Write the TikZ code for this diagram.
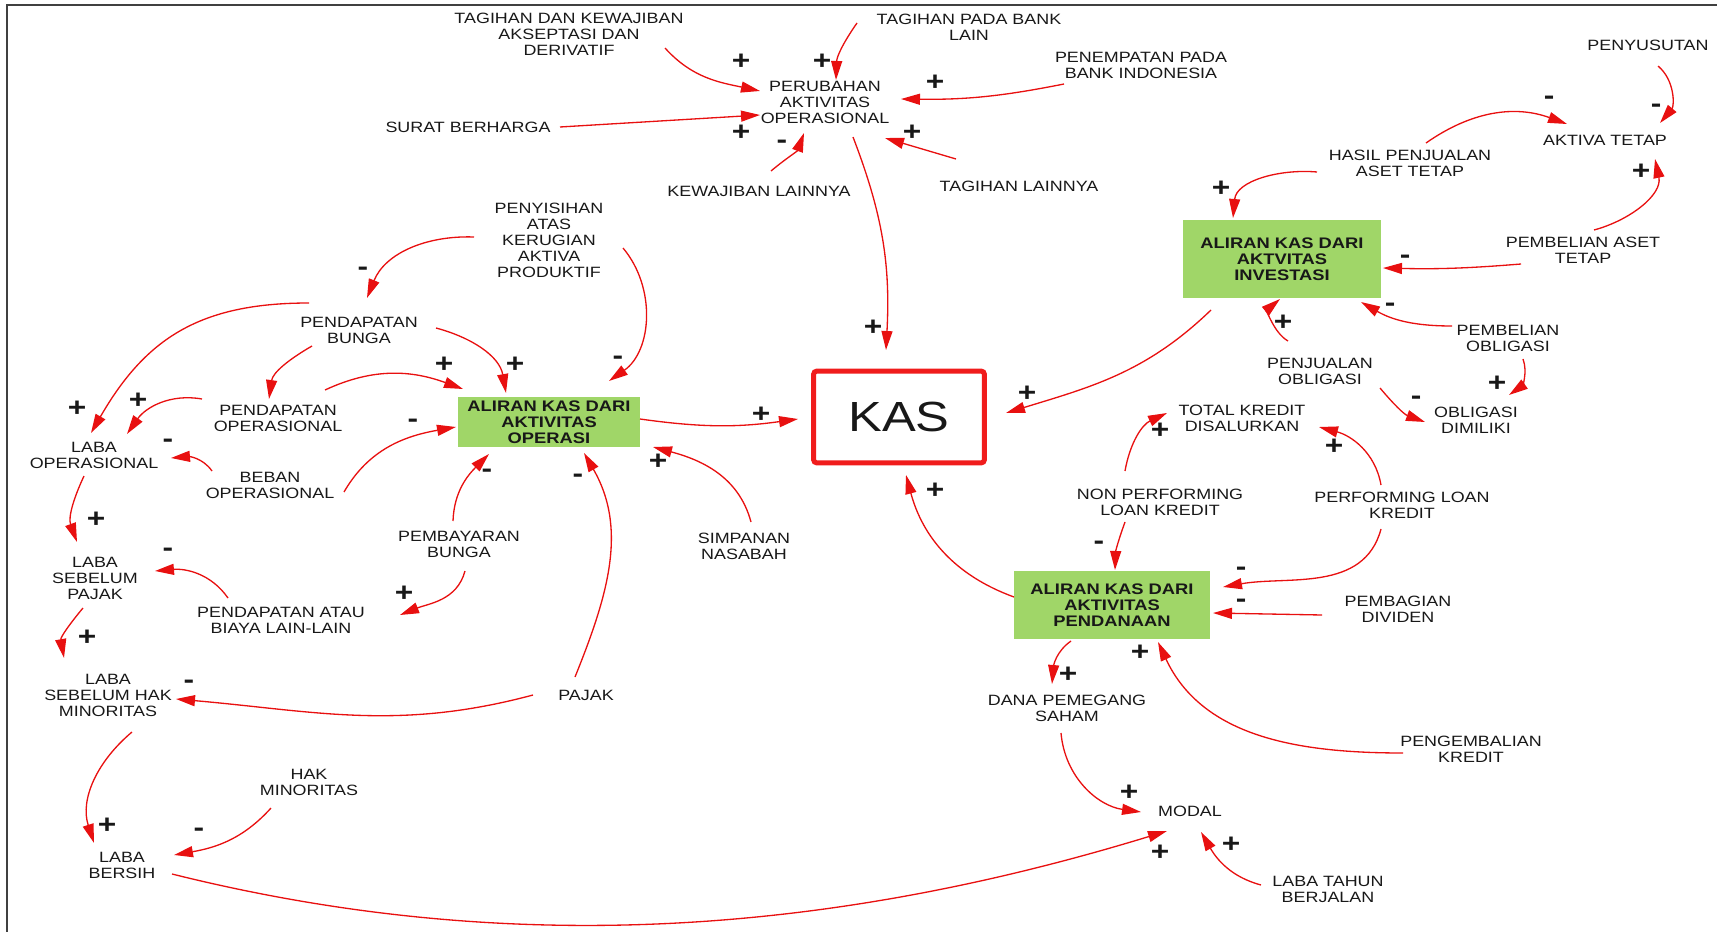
\documentclass[tikz,border=0pt]{standalone}
\usepackage{fontspec}
\setmainfont{Liberation Sans}[FakeStretch=1.2]
\usetikzlibrary{arrows.meta,calc}

\definecolor{linkred}{RGB}{232,16,16}
\definecolor{boxgreen}{RGB}{160,214,104}
\definecolor{kasred}{RGB}{240,28,28}
\definecolor{ink}{RGB}{24,24,24}

\begin{document}
\begin{tikzpicture}[
  x=0.02cm, y=0.02cm,
  every node/.style={text=ink},
  var/.style={align=center, inner sep=2pt, font=\fontsize{8.5}{9.1}\selectfont},
  flowbox/.style={fill=boxgreen, align=center, inner sep=2pt, font=\fontsize{8.7}{9.1}\selectfont\bfseries},
  kasbox/.style={draw=kasred, line width=0.1cm, rounded corners=2pt, minimum width=3.42cm, minimum height=1.84cm, font=\fontsize{24}{28}\selectfont},
  link/.style={draw=linkred, line width=0.75pt, -{Triangle[length=0.38cm, width=0.22cm]}},
  sign/.style={font=\fontsize{15}{15}\selectfont\bfseries, inner sep=0pt},
  frame/.style={draw=black!75, line width=0.035cm}
]
\useasboundingbox (0,0) rectangle (1717,-932);
\draw[frame] (7,-932) -- (7,-5) -- (1717,-5);

% stocks and flows
\node[kasbox] (kas) at (899,-417) {KAS};
\node[flowbox, minimum width=3.64cm, minimum height=1.0cm] (operasi) at (549,-422) {ALIRAN KAS DARI\\AKTIVITAS\\OPERASI};
\node[flowbox, minimum width=3.96cm, minimum height=1.58cm] (investasi) at (1282,-259) {ALIRAN KAS DARI\\AKTVITAS\\INVESTASI};
\node[flowbox, minimum width=3.94cm, minimum height=1.38cm] (pendanaan) at (1112,-605) {ALIRAN KAS DARI\\AKTIVITAS\\PENDANAAN};

% operasional changes
\node[var] (tagkwj) at (569,-34) {TAGIHAN DAN KEWAJIBAN\\AKSEPTASI DAN\\DERIVATIF};
\node[var] (tagbank) at (969,-27) {TAGIHAN PADA BANK\\LAIN};
\node[var] (penempatan) at (1141,-65) {PENEMPATAN PADA\\BANK INDONESIA};
\node[var] (perubahan) at (825,-102) {PERUBAHAN\\AKTIVITAS\\OPERASIONAL};
\node[var] (surat) at (468,-127) {SURAT BERHARGA};
\node[var] (kwjlain) at (759,-191) {KEWAJIBAN LAINNYA};
\node[var] (taglain) at (1019,-186) {TAGIHAN LAINNYA};

% investasi side
\node[var] (penyusutan) at (1648,-45) {PENYUSUTAN};
\node[var] (aktiva) at (1605,-140) {AKTIVA TETAP};
\node[var] (hasiljual) at (1410,-163) {HASIL PENJUALAN\\ASET TETAP};
\node[var] (beliaset) at (1583,-250) {PEMBELIAN ASET\\TETAP};
\node[var] (beliobl) at (1508,-338) {PEMBELIAN\\OBLIGASI};
\node[var] (jualobl) at (1320,-371) {PENJUALAN\\OBLIGASI};
\node[var] (oblmilik) at (1476,-420) {OBLIGASI\\DIMILIKI};

% pendanaan side
\node[var] (totkredit) at (1242,-418) {TOTAL KREDIT\\DISALURKAN};
\node[var] (nonperf) at (1160,-502) {NON PERFORMING\\LOAN KREDIT};
\node[var] (performing) at (1402,-505) {PERFORMING LOAN\\KREDIT};
\node[var] (dividen) at (1398,-609) {PEMBAGIAN\\DIVIDEN};
\node[var] (danaps) at (1067,-708) {DANA PEMEGANG\\SAHAM};
\node[var] (kembali) at (1471,-749) {PENGEMBALIAN\\KREDIT};
\node[var] (modal) at (1190,-811) {MODAL};
\node[var] (labathn) at (1328,-889) {LABA TAHUN\\BERJALAN};

% laba rugi side
\node[var] (penyisihan) at (549,-240) {PENYISIHAN\\ATAS\\KERUGIAN\\AKTIVA\\PRODUKTIF};
\node[var] (pendbunga) at (359,-330) {PENDAPATAN\\BUNGA};
\node[var] (pendops) at (278,-418) {PENDAPATAN\\OPERASIONAL};
\node[var] (beban) at (270,-485) {BEBAN\\OPERASIONAL};
\node[var] (labaops) at (94,-455) {LABA\\OPERASIONAL};
\node[var] (bayarbunga) at (459,-544) {PEMBAYARAN\\BUNGA};
\node[var] (simpanan) at (744,-546) {SIMPANAN\\NASABAH};
\node[var] (labasp) at (95,-578) {LABA\\SEBELUM\\PAJAK};
\node[var] (pendlain) at (281,-620) {PENDAPATAN ATAU\\BIAYA LAIN-LAIN};
\node[var] (pajak) at (586,-695) {PAJAK};
\node[var] (labashm) at (108,-695) {LABA\\SEBELUM HAK\\MINORITAS};
\node[var] (hakmin) at (309,-782) {HAK\\MINORITAS};
\node[var] (lababer) at (122,-865) {LABA\\BERSIH};

% links into perubahan aktivitas operasional
\draw[link] ($(tagkwj)+(96,-14)$) to[out=-48, in=168] ($(perubahan)+(-65,11)$);
\draw[link] ($(tagbank)+(-112,4)$) to[out=235, in=88] ($(perubahan)+(11,22)$);
\draw[link] ($(penempatan)+(-77,-19)$) to[bend left=6] ($(perubahan)+(76,3)$);
\draw[link] ($(surat)+(92,0)$) -- ($(perubahan)+(-65,-13)$);
\draw[link] ($(kwjlain)+(12,20)$) to[out=40, in=-110] ($(perubahan)+(-21,-31)$);
\draw[link] ($(taglain)+(-63,27)$) -- ($(perubahan)+(60,-36)$);
\draw[link] ($(perubahan)+(28,-35)$) to[out=-69, in=87] ($(kas)+(-13,67)$);

% investasi links
\draw[link] ($(penyusutan)+(10,-21)$) to[out=-40, in=50] ($(aktiva)+(55,17)$);
\draw[link] ($(hasiljual)+(16,20)$) to[out=35, in=160] ($(aktiva)+(-38,16)$);
\draw[link] ($(beliaset)+(11,20)$) to[out=15, in=-78] ($(aktiva)+(50,-19)$);
\draw[link] ($(hasiljual)+(-93,-9)$) to[out=175, in=85] ($(investasi)+(-49,41)$);
\draw[link] ($(beliaset)+(-62,-14)$) to[bend left=3] ($(investasi)+(101,-9)$);
\draw[link] ($(beliobl)+(-56,12)$) to[out=180, in=-30] ($(investasi)+(79,-43)$);
\draw[link] ($(jualobl)+(-32,30)$) to[out=150, in=-140] ($(investasi)+(-2,-40)$);
\draw[link] ($(investasi)+(-71,-51)$) to[out=224, in=17] ($(kas)+(107,4)$);
\draw[link] ($(beliobl)+(15,-21)$) to[out=-70, in=35] ($(oblmilik)+(33,25)$);
\draw[link] ($(jualobl)+(60,-17)$) to[out=-50, in=160] ($(oblmilik)+(-51,-2)$);

% pendanaan links
\draw[link] ($(nonperf)+(-35,31)$) to[out=80, in=-155] ($(totkredit)+(-75,5)$);
\draw[link] ($(performing)+(-21,20)$) to[out=100, in=-15] ($(totkredit)+(77,-9)$);
\draw[link] ($(nonperf)+(-35,-20)$) to[out=-110, in=88] ($(pendanaan)+(3,35)$);
\draw[link] ($(performing)+(-21,-24)$) to[out=-105, in=10] ($(pendanaan)+(111,18)$);
\draw[link] ($(dividen)+(-76,-6)$) -- ($(pendanaan)+(101,-8)$);
\draw[link] ($(pendanaan)+(-98,8)$) to[out=160, in=-75] ($(kas)+(7,-58)$);
\draw[link] ($(kembali)+(-68,-4)$) to[out=180, in=-65] ($(pendanaan)+(46,-37)$);
\draw[link] ($(pendanaan)+(-41,-36)$) to[out=215, in=85] ($(danaps)+(-15,24)$);
\draw[link] ($(danaps)+(-6,-25)$) to[out=-85, in=172] ($(modal)+(-49,-1)$);
\draw[link] ($(lababer)+(50,-9)$) to[out=-14, in=197, looseness=0.9] ($(modal)+(-23,-20)$);
\draw[link] ($(labathn)+(-67,4)$) to[out=165, in=-60] ($(modal)+(11,-21)$);

% operasi and laba rugi links
\draw[link] ($(penyisihan)+(-75,3)$) to[out=178, in=68] ($(pendbunga)+(8,32)$);
\draw[link] ($(penyisihan)+(74,-8)$) to[out=-50, in=35] ($(operasi)+(60,41)$);
\draw[link] ($(pendbunga)+(77,2)$) to[out=-15, in=100] ($(operasi)+(-43,29)$);
\draw[link] ($(pendbunga)+(-50,27)$) to[out=180, in=60, looseness=1.1] ($(labaops)+(-3,22)$);
\draw[link] ($(pendbunga)+(-47,-16)$) to[out=210, in=82] ($(pendops)+(-9,19)$);
\draw[link] ($(pendops)+(47,28)$) to[out=25, in=160] ($(operasi)+(-86,33)$);
\draw[link] ($(pendops)+(-76,19)$) to[out=170, in=55] ($(labaops)+(33,21)$);
\draw[link] ($(beban)+(-58,14)$) to[out=125, in=5] ($(labaops)+(77,-3)$);
\draw[link] ($(beban)+(74,-7)$) to[out=60, in=190] ($(operasi)+(-93,-5)$);
\draw[link] ($(bayarbunga)+(-6,23)$) to[out=88, in=-135] ($(operasi)+(-60,-32)$);
\draw[link] ($(bayarbunga)+(6,-27)$) to[out=-105, in=22] ($(pendlain)+(119,5)$);
\draw[link] ($(pajak)+(-11,18)$) to[out=68, in=-60] ($(operasi)+(35,-31)$);
\draw[link] ($(simpanan)+(7,24)$) to[out=105, in=-15] ($(operasi)+(104,-25)$);
\draw[link] ($(operasi)+(91,3)$) to[out=-8, in=188] ($(kas)+(-101,-2)$);
\draw[link] ($(labaops)+(-10,-21)$) to[out=-115, in=110] ($(labasp)+(-18,36)$);
\draw[link] ($(pendlain)+(-53,22)$) to[out=125, in=5] ($(labasp)+(60,7)$);
\draw[link] ($(labasp)+(-12,-30)$) to[out=230, in=100] ($(labashm)+(-44,37)$);
\draw[link] ($(pajak)+(-53,0)$) to[out=195, in=-5] ($(labashm)+(68,-4)$);
\draw[link] ($(labashm)+(24,-37)$) to[out=220, in=108] ($(lababer)+(-28,22)$);
\draw[link] ($(hakmin)+(-38,-26)$) to[out=228, in=10] ($(lababer)+(52,10)$);

% polarity signs
\foreach \x/\y [count=\i] in {741/62, 822/62, 935/83, 741/133, 912/133, 873/328,
    1641/172, 1221/189, 1283/323, 1027/394, 1497/384,
    1160/431, 1334/447, 935/491, 1140/653, 1068/675, 1129/793, 1160/853, 1231/845,
    515/365, 77/409, 444/365, 138/401, 404/594, 658/462, 761/415, 96/520, 87/638, 107/826}
  \node[sign] (pl\i) at (\x,-\y) {+};
\foreach \x/\y [count=\i] in {782/144, 1656/108, 1549/100, 1405/259, 1390/307, 1416/400,
    1099/545, 1241/571, 1241/603,
    363/271, 618/360, 168/443, 413/423, 487/473, 578/478, 168/552, 189/684, 199/832}
  \node[sign] (mi\i) at (\x,-\y) {-};
\end{tikzpicture}
\end{document}
